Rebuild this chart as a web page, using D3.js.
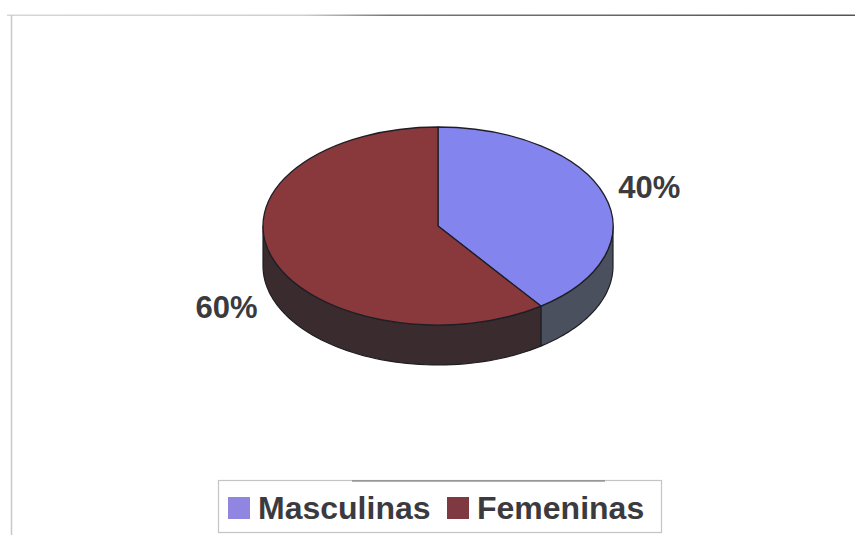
<!DOCTYPE html>
<html>
<head>
<meta charset="utf-8">
<script src="https://cdn.jsdelivr.net/npm/d3@7"></script>
<style>
  body{margin:0;background:#fff;}
  svg{display:block;}
  text{font-family:"Liberation Sans",Arial,sans-serif;font-weight:bold;fill:#3b3b3f;}
</style>
</head>
<body>
<div id="chart"></div>
<script>
// data
const categories=["Masculinas","Femeninas"];
const values=[40,60];
const labels=["40%","60%"];
const topColors=["#8484ee","#89393b"];
const sideColors=["#4b505e","#3a2c2e"];
const swatchColors=["#9185e2","#7e3a40"];

const W=855,H=535;
const cx=438,cy=226,rx=175,ry=99,depth=40;

const svg=d3.select("#chart")
    .append("svg")
    .attr("width",W)
    .attr("height",H);

// frame lines
const grad=svg.append("defs").append("linearGradient")
    .attr("id","topLine").attr("x1","0").attr("x2","1");
grad.append("stop").attr("offset","0%").attr("stop-color","#d6d6d6");
grad.append("stop").attr("offset","35%").attr("stop-color","#cfcfcf");
grad.append("stop").attr("offset","45%").attr("stop-color","#777");
grad.append("stop").attr("offset","100%").attr("stop-color","#555");

svg.append("rect")
    .attr("x",7).attr("y",14.5)
    .attr("width",W-7).attr("height",1.5)
    .attr("fill","url(#topLine)");

svg.append("line")
    .attr("x1",11.5).attr("y1",15)
    .attr("x2",11.5).attr("y2",H)
    .attr("stroke","#c8c8c8")
    .attr("stroke-width",1.5);

const pie=d3.pie().sort(null).value(d=>d);
const arcs=pie(values);

const pt=(a,dy=0)=>[cx+rx*Math.sin(a),cy-ry*Math.cos(a)+dy];

// side walls (front half only: angles between PI/2 and 3PI/2)
const line=d3.line();
arcs.forEach((d,i)=>{
    const a0=Math.max(d.startAngle,Math.PI/2);
    const a1=Math.min(d.endAngle,Math.PI*1.5);
    if(a1<=a0) return;
    const n=60;
    const topPts=d3.range(n+1).map(k=>pt(a0+(a1-a0)*k/n));
    const botPts=topPts.map(p=>[p[0],p[1]+depth]).reverse();
    svg.append("path")
        .attr("d",line(topPts.concat(botPts))+"Z")
        .attr("fill",sideColors[i])
        .attr("stroke","#1e1e22")
        .attr("stroke-width",1.2)
        .attr("stroke-linejoin","round");
});

// top faces
const arc=d3.arc().innerRadius(0).outerRadius(rx);
svg.append("g")
    .attr("transform",`translate(${cx},${cy}) scale(1,${ry/rx})`)
    .selectAll("path")
    .data(arcs)
    .enter()
    .append("path")
    .attr("d",arc)
    .attr("fill",(d,i)=>topColors[i])
    .attr("stroke","#1e1e28")
    .attr("stroke-width",1.3)
    .attr("vector-effect","non-scaling-stroke")
    .attr("stroke-linejoin","round");

// labels
svg.selectAll(".pct")
    .data(arcs)
    .enter()
    .append("text")
    .attr("class","pct")
    .attr("x",d=>pt((d.startAngle+d.endAngle)/2)[0]+(Math.sin((d.startAngle+d.endAngle)/2))*rx*0.27)
    .attr("y",d=>{
        const a=(d.startAngle+d.endAngle)/2;
        const p=pt(a);
        return p[1]-Math.cos(a)*ry*0.27+(Math.cos(a)<0?depth+3:0)+10.5;
    })
    .attr("text-anchor","middle")
    .attr("font-size",31)
    .text((d,i)=>labels[i]);

// legend
const lg=svg.append("g");
lg.append("rect")
    .attr("x",218.5).attr("y",480.5)
    .attr("width",443).attr("height",52)
    .attr("fill","#fff")
    .attr("stroke","#c4c4c4")
    .attr("stroke-width",1.2);
lg.append("line")
    .attr("x1",352).attr("y1",481)
    .attr("x2",605).attr("y2",481)
    .attr("stroke","#6a6a6a")
    .attr("stroke-width",1.2);

const legendX=[228,447];
categories.forEach((c,i)=>{
    lg.append("rect")
        .attr("x",legendX[i]).attr("y",497)
        .attr("width",22).attr("height",22)
        .attr("fill",swatchColors[i]);
    lg.append("text")
        .attr("x",legendX[i]+30)
        .attr("y",519)
        .attr("font-size",32)
        .text(c);
});
</script>
</body>
</html>
